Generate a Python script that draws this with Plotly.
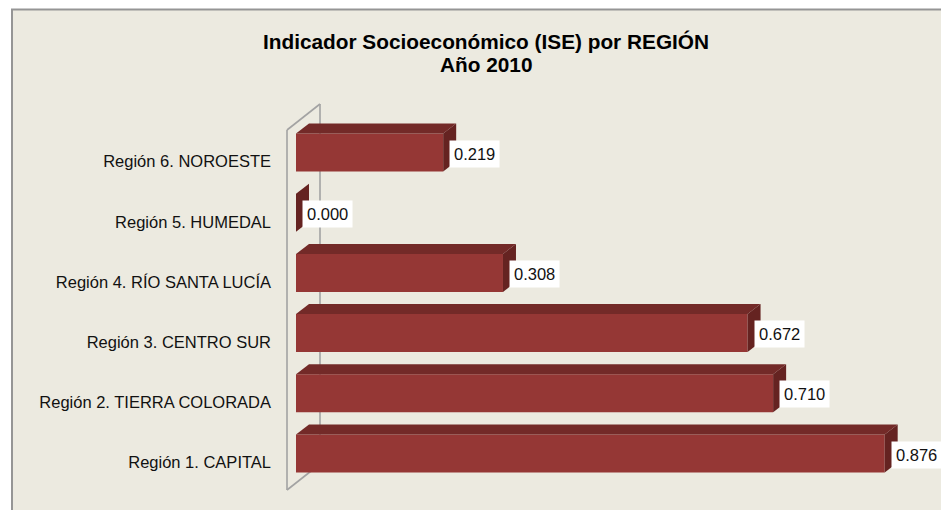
import plotly.graph_objects as go

# ---- data ----
regions = [
    "Región 1. CAPITAL",
    "Región 2. TIERRA COLORADA",
    "Región 3. CENTRO SUR",
    "Región 4. RÍO SANTA LUCÍA",
    "Región 5. HUMEDAL",
    "Región 6. NOROESTE",
]
ise_values = [0.876, 0.710, 0.672, 0.308, 0.000, 0.219]
value_labels = ["0.876", "0.710", "0.672", "0.308", "0.000", "0.219"]
title_line1 = "Indicador Socioeconómico (ISE) por REGIÓN"
title_line2 = "Año 2010"

# ---- style / geometry (screen pixels) ----
W, H = 941, 510
ML = 280                            # plot-area left edge
ZERO = 296                          # value 0 position
PX_PER_UNIT_X = 672.0
PX_PER_CAT = 60.2
X0 = (ML - ZERO) / PX_PER_UNIT_X
X1 = (W - ZERO) / PX_PER_UNIT_X
Y_TOP = 5 + 152.5 / PX_PER_CAT
Y_BOT = Y_TOP - H / PX_PER_CAT

FRONT = "#953735"
TOP = "#732a28"
SIDE = "#652321"
BG = "#ECEAE0"
WALL = "#a3a3a3"
FONT = "Liberation Sans, Arial"

HALF = 19 / PX_PER_CAT          # half height of bar front face
DX = 13 / PX_PER_UNIT_X          # 3D depth offset (x)
DY = 10 / PX_PER_CAT             # 3D depth offset (y)


def py(p):  # pixel y -> data y
    return Y_TOP - p / PX_PER_CAT


def px(p):  # pixel x -> data x
    return (p - ZERO) / PX_PER_UNIT_X


def pxp(p):  # pixel x -> paper x
    return (p - ML) / (W - ML)


def pyp(p):  # pixel y -> paper y
    return 1 - p / H


fig = go.Figure()

idx = list(range(len(regions)))

# front faces
fig.add_trace(go.Bar(
    y=idx, x=ise_values, orientation="h", width=2 * HALF, base=0,
    marker=dict(color=FRONT, line=dict(width=0)),
    hoverinfo="skip", showlegend=False,
))

# top and side faces
for i, v in zip(idx, ise_values):
    fig.add_trace(go.Scatter(
        x=[0, v, v + DX, DX, 0],
        y=[i + HALF, i + HALF, i + HALF + DY, i + HALF + DY, i + HALF],
        mode="lines", fill="toself", fillcolor=TOP,
        line=dict(width=0, color=TOP), hoverinfo="skip", showlegend=False,
    ))
    fig.add_trace(go.Scatter(
        x=[v, v, v + DX, v + DX, v],
        y=[i - HALF, i + HALF, i + HALF + DY, i - HALF + DY, i - HALF],
        mode="lines", fill="toself", fillcolor=SIDE,
        line=dict(width=0, color=SIDE), hoverinfo="skip", showlegend=False,
    ))

shapes = []
# chart frame
shapes.append(dict(type="rect", xref="paper", yref="paper",
                   x0=pxp(12), x1=pxp(970), y0=pyp(540), y1=pyp(9.5),
                   fillcolor=BG, line=dict(color="#959595", width=2), layer="below"))
# 3D wall
wall = [
    (px(287), py(130), px(287), py(490)),
    (px(287), py(130), px(320), py(104)),
    (px(287), py(490), px(320), py(464)),
    (px(320), py(104), px(320), py(464)),
]
for x0, y0, x1, y1 in wall:
    shapes.append(dict(type="line", xref="x", yref="y", x0=x0, y0=y0, x1=x1, y1=y1,
                       line=dict(color=WALL, width=1.6), layer="below"))

annotations = []
for i, v, t in zip(idx, ise_values, value_labels):
    annotations.append(dict(
        x=v, y=i, xref="x", yref="y", text=t, showarrow=False,
        xanchor="left", yanchor="middle", xshift=6, yshift=-1,
        bgcolor="#ffffff", borderpad=4,
        font=dict(family=FONT, size=16.5, color="#111111"),
    ))

cx = pxp(485.5)
annotations.append(dict(x=cx, y=pyp(41), xref="paper", yref="paper",
                        text="<b>" + title_line1 + "</b>", showarrow=False,
                        xanchor="center", yanchor="middle",
                        font=dict(family=FONT, size=20.8, color="#000000")))
annotations.append(dict(x=cx, y=pyp(64.5), xref="paper", yref="paper",
                        text="<b>" + title_line2 + "</b>", showarrow=False,
                        xanchor="center", yanchor="middle",
                        font=dict(family=FONT, size=20.8, color="#000000")))

fig.update_layout(
    width=W, height=H,
    margin=dict(l=ML, r=0, t=0, b=0, pad=0),
    paper_bgcolor="#ffffff",
    plot_bgcolor="rgba(0,0,0,0)",
    showlegend=False,
    shapes=shapes,
    annotations=annotations,
    xaxis=dict(range=[X0, X1], visible=False, fixedrange=True),
    yaxis=dict(range=[Y_BOT, Y_TOP], tickmode="array",
               tickvals=[i - 0.15 for i in idx], ticktext=regions,
               showgrid=False, zeroline=False, showline=False, ticks="",
               ticklabelstandoff=8,
               tickfont=dict(family=FONT, size=16.5, color="#111111"),
               fixedrange=True),
)

fig.write_html(
    "out.html",
    config={"displayModeBar": False},
    post_script="document.body.style.margin='0';document.body.style.overflow='hidden';",
)
